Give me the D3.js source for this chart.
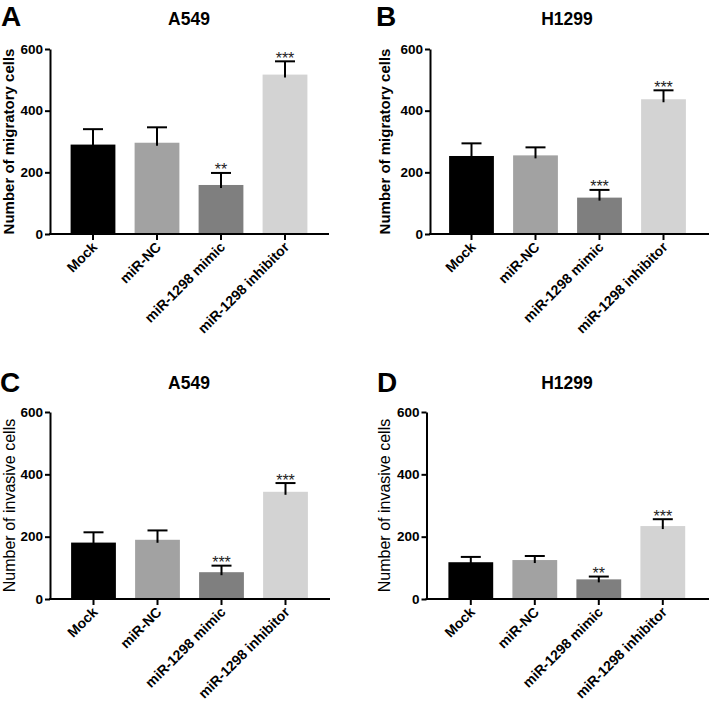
<!DOCTYPE html>
<html>
<head>
<meta charset="utf-8">
<script src="https://cdn.jsdelivr.net/npm/d3@7"></script>
<style>
  html, body { margin: 0; padding: 0; background: #fff; }
  svg { display: block; font-family: "Liberation Sans", Arial, Helvetica, sans-serif; }
</style>
</head>
<body>
<svg id="chart" width="709" height="703"></svg>
<script>
// ---- data ----
const categories = ["Mock", "miR-NC", "miR-1298 mimic", "miR-1298 inhibitor"];
const barColors = ["#000000", "#a2a2a2", "#7f7f7f", "#d3d3d3"];
const yTicks = [0, 200, 400, 600];

const migA549Mean = [290, 296, 159, 517];
const migA549SD   = [50, 50, 39, 43];
const migA549Sig  = ["", "", "**", "***"];

const migH1299Mean = [253, 255, 118, 437];
const migH1299SD   = [41, 26, 25, 29];
const migH1299Sig  = ["", "", "***", "***"];

const invA549Mean = [181, 190, 86, 344];
const invA549SD   = [33, 30, 21, 28];
const invA549Sig  = ["", "", "***", "***"];

const invH1299Mean = [118, 125, 63, 234];
const invH1299SD   = [17, 13, 9, 22];
const invH1299Sig  = ["", "", "**", "***"];

// ---- layout ----
const panels = [
  { letter: "A", title: "A549",  ylabel: "Number of migratory cells", mean: migA549Mean, sd: migA549SD, sig: migA549Sig,
    axisX: 50, axisEnd: 329, y0: 234, yTop: 49, bandStart: 61, titleX: 189, titleY: 25, letterX: 1, letterY: 26,
    ylabX: 13.5, ylabSize: 15, ylabWeight: "bold" },
  { letter: "B", title: "H1299", ylabel: "Number of migratory cells", mean: migH1299Mean, sd: migH1299SD, sig: migH1299Sig,
    axisX: 430, axisEnd: 709, y0: 234, yTop: 49, bandStart: 439.5, titleX: 567, titleY: 25, letterX: 376, letterY: 26,
    ylabX: 390, ylabSize: 15, ylabWeight: "bold" },
  { letter: "C", title: "A549",  ylabel: "Number of invasive cells", mean: invA549Mean, sd: invA549SD, sig: invA549Sig,
    axisX: 50, axisEnd: 330, y0: 599, yTop: 412, bandStart: 61.5, titleX: 189, titleY: 389, letterX: 0, letterY: 392,
    ylabX: 14.5, ylabSize: 16, ylabWeight: "normal" },
  { letter: "D", title: "H1299", ylabel: "Number of invasive cells", mean: invH1299Mean, sd: invH1299SD, sig: invH1299Sig,
    axisX: 426.5, axisEnd: 709, y0: 599, yTop: 412, bandStart: 438.8, titleX: 567, titleY: 389, letterX: 377, letterY: 392,
    ylabX: 389.5, ylabSize: 16, ylabWeight: "normal" }
];

const svg = d3.select("#chart");
const bandStep = 64;
const FONT = "'Liberation Sans', Arial, sans-serif";

panels.forEach(p => {
  const g = svg.append("g");
  const y = d3.scaleLinear().domain([0, 600]).range([p.y0, p.yTop]);
  const x = d3.scaleBand().domain(categories)
    .range([p.bandStart, p.bandStart + bandStep * categories.length])
    .paddingInner(0.3).paddingOuter(0.15);

  // bars
  g.selectAll("rect.bar").data(categories).enter().append("rect")
    .attr("class", "bar")
    .attr("x", d => x(d))
    .attr("width", x.bandwidth())
    .attr("y", (d, i) => y(p.mean[i]))
    .attr("height", (d, i) => p.y0 - y(p.mean[i]))
    .attr("fill", (d, i) => barColors[i]);

  // error bars (upper only)
  const capW = 20;
  categories.forEach((c, i) => {
    const cx = x(c) + x.bandwidth() / 2;
    const top = y(p.mean[i] + p.sd[i]);
    g.append("line").attr("x1", cx).attr("x2", cx)
      .attr("y1", y(p.mean[i]) + 3).attr("y2", top)
      .attr("stroke", "#000").attr("stroke-width", 2);
    g.append("line").attr("x1", cx - capW / 2).attr("x2", cx + capW / 2)
      .attr("y1", top).attr("y2", top)
      .attr("stroke", "#000").attr("stroke-width", 2);
    if (p.sig[i]) {
      g.append("text").attr("x", cx).attr("y", top + 2.5)
        .attr("text-anchor", "middle").attr("font-size", 16)
        .attr("fill", "#222").text(p.sig[i]);
    }
  });

  // y axis
  const yAxis = d3.axisLeft(y).tickValues(yTicks).tickSize(5).tickSizeOuter(0).tickPadding(2);
  const ya = g.append("g").attr("transform", `translate(${p.axisX},0)`).call(yAxis);
  ya.select(".domain").attr("stroke-width", 2);
  ya.selectAll(".tick line").attr("stroke-width", 2);
  ya.selectAll(".tick text").attr("font-size", 13.5).attr("font-weight", "bold").attr("fill", "#000")
    .attr("font-family", FONT);

  // x axis
  const xAxis = d3.axisBottom(x).tickSize(6).tickSizeOuter(0).tickPadding(3);
  const xa = g.append("g").attr("transform", `translate(0,${p.y0})`).call(xAxis);
  xa.select(".domain").remove();
  xa.selectAll(".tick line").attr("stroke-width", 2);
  xa.selectAll(".tick text")
    .attr("font-size", 14).attr("font-weight", "bold").attr("fill", "#000")
    .attr("font-family", FONT)
    .attr("text-anchor", "end")
    .attr("dy", null)
    .attr("y", 0)
    .attr("transform", "translate(5,14) rotate(-45)");
  g.append("line").attr("x1", p.axisX - 1).attr("x2", p.axisEnd)
    .attr("y1", p.y0).attr("y2", p.y0)
    .attr("stroke", "#000").attr("stroke-width", 2);

  // y label
  g.append("text")
    .attr("transform", `translate(${p.ylabX},${(p.y0 + p.yTop) / 2}) rotate(-90)`)
    .attr("text-anchor", "middle").attr("font-size", p.ylabSize).attr("font-weight", p.ylabWeight)
    .text(p.ylabel);

  // title
  g.append("text").attr("x", p.titleX).attr("y", p.titleY)
    .attr("text-anchor", "middle").attr("font-size", 17.5).attr("font-weight", "bold")
    .text(p.title);

  // panel letter
  g.append("text").attr("x", p.letterX).attr("y", p.letterY)
    .attr("font-size", 28).attr("font-weight", "bold")
    .text(p.letter);
});
</script>
</body>
</html>
